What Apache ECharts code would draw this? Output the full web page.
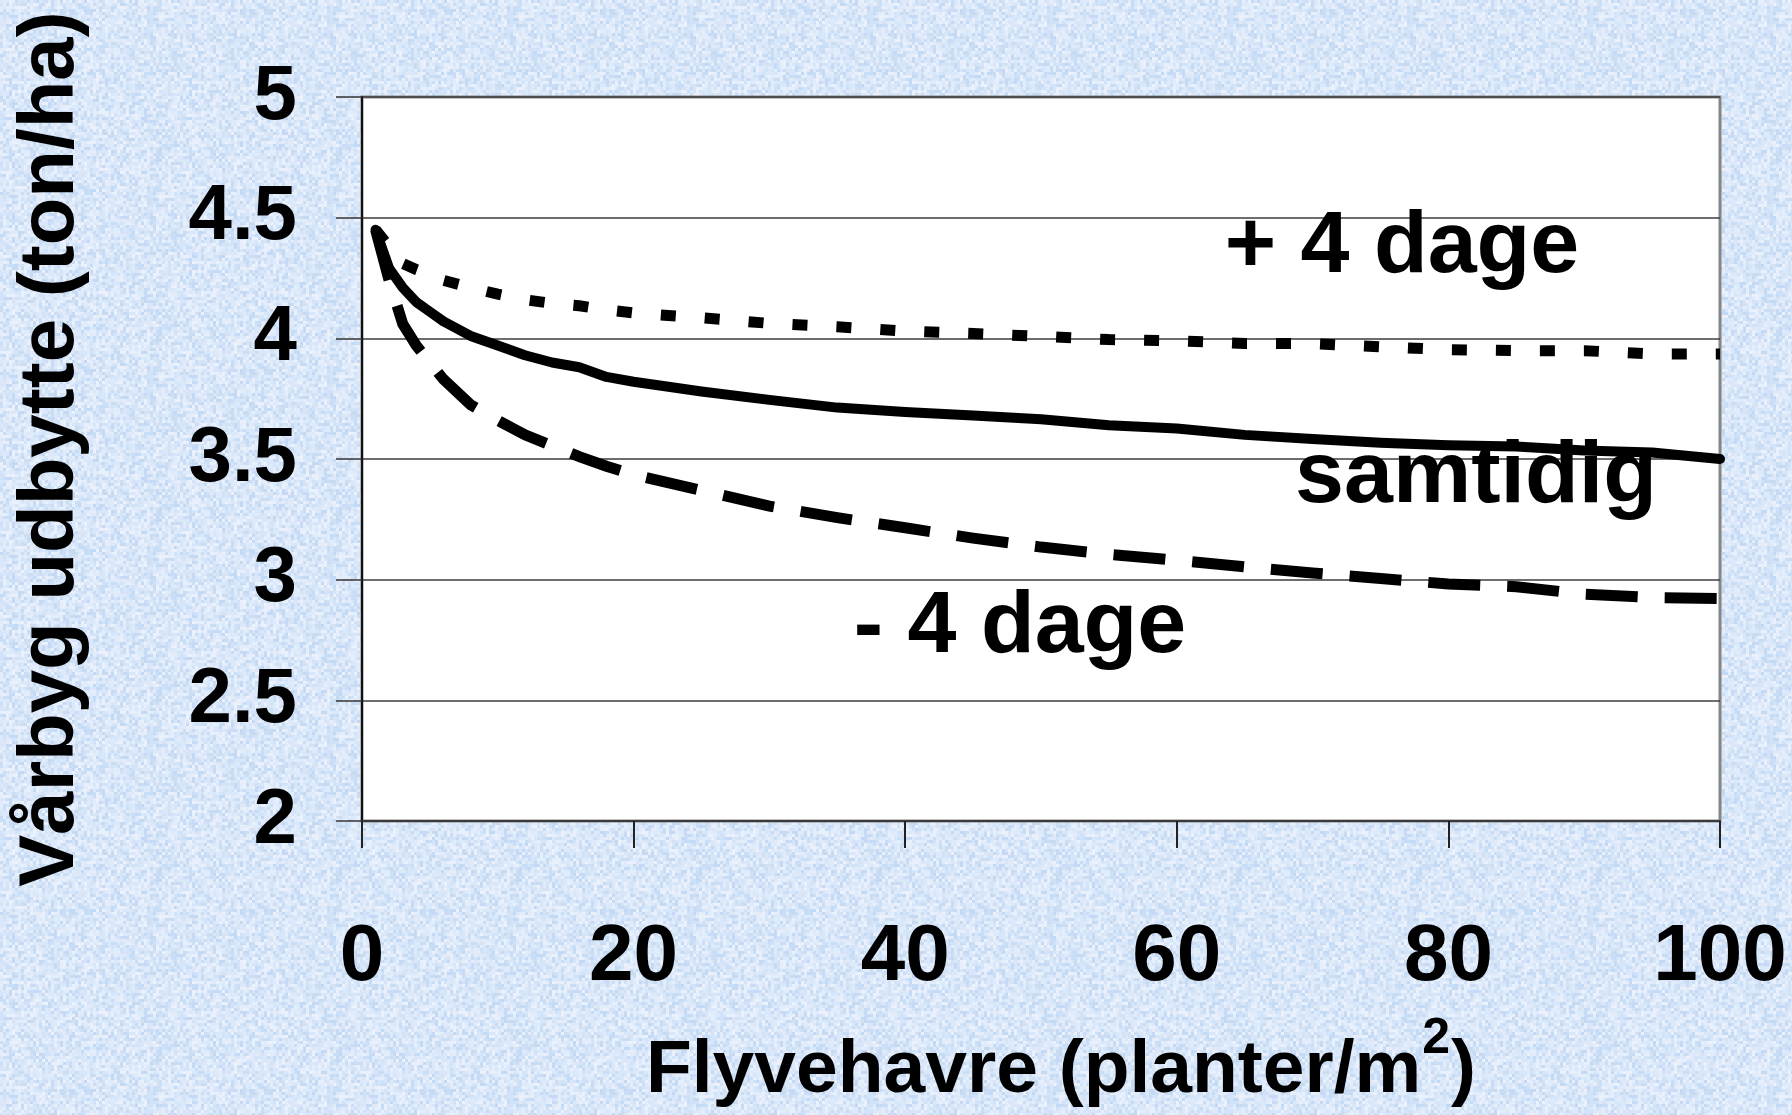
<!DOCTYPE html>
<html>
<head>
<meta charset="utf-8">
<script src="https://cdn.jsdelivr.net/npm/echarts@6/dist/echarts.min.js"></script>
<style>
html,body{margin:0;padding:0;overflow:hidden;background:#d9e7f8;}
#chart{width:1792px;height:1115px;}
</style>
</head>
<body>
<div id="chart"></div>
<script>
// ---- data ----
const density = [1, 2, 3, 4, 5, 6, 8, 10, 12, 14, 16, 18, 20, 25, 30, 35, 40, 45, 50, 55, 60, 65, 70, 75, 80, 85, 90, 95, 100];
const samtidig = [4.45, 4.29, 4.21, 4.15, 4.11, 4.07, 4.01, 3.97, 3.93, 3.90, 3.88, 3.84, 3.82, 3.78, 3.745, 3.713, 3.695, 3.68, 3.665, 3.64, 3.626, 3.60, 3.583, 3.567, 3.557, 3.552, 3.535, 3.527, 3.50];
const plus4 = [4.45, 4.38, 4.31, 4.285, 4.265, 4.24, 4.21, 4.183, 4.16, 4.145, 4.135, 4.118, 4.105, 4.085, 4.062, 4.048, 4.03, 4.02, 4.008, 3.995, 3.99, 3.979, 3.978, 3.965, 3.953, 3.949, 3.949, 3.935, 3.935];
const minus4 = [4.45, 4.24, 4.06, 3.97, 3.90, 3.83, 3.725, 3.66, 3.60, 3.555, 3.51, 3.47, 3.435, 3.37, 3.305, 3.257, 3.215, 3.172, 3.135, 3.105, 3.08, 3.053, 3.028, 3.005, 2.982, 2.971, 2.94, 2.926, 2.922];
const seriesNames = ['samtidig', '+ 4 dage', '- 4 dage'];
const xTitleMain = 'Flyvehavre (planter/m';
const xTitleSup = '2';
const xTitleClose = ')';
const yTitle = 'Vårbyg udbytte (ton/ha)';

const FONT = '"Liberation Sans", Arial, "DejaVu Sans", sans-serif';

// ---- background texture (deterministic hash, decoration only) ----
(function () {
  const c = document.createElement('canvas');
  c.width = 180; c.height = 180;
  const ctx = c.getContext('2d');
  const pal = ['#dbe8f9', '#d2e3f7', '#e4eefb', '#c9ddf5', '#eaf1fc', '#d7e6f8', '#c4daf4', '#dfeafa'];
  for (let i = 0; i < 60; i++) {
    for (let j = 0; j < 60; j++) {
      const h = Math.abs(Math.sin(i * 12.9898 + j * 78.233) * 43758.5453) % 1;
      ctx.fillStyle = pal[Math.floor(h * pal.length)];
      ctx.fillRect(i * 3, j * 3, 3, 3);
    }
  }
  document.getElementById('chart').style.background = 'url(' + c.toDataURL() + ') repeat';
})();

function measure(text, size) {
  const c = document.createElement('canvas').getContext('2d');
  c.font = 'bold ' + size + 'px ' + FONT;
  return c.measureText(text).width;
}

const chart = echarts.init(document.getElementById('chart'), null, { renderer: 'canvas' });

// x title pieces
const mainSize = 75, supSize = 50;
const wMain = measure(xTitleMain, mainSize);
const wSup = measure(xTitleSup, supSize);
const wClose = measure(xTitleClose, mainSize);
const titleCenter = 1061;
const totalW = wMain + wSup + 2 + wClose;
const tLeft = titleCenter - totalW / 2;

function txt(x, y, text, size, align, extra) {
  return Object.assign({
    type: 'text', x: x, y: y, z: 100,
    style: {
      text: text, fill: '#000',
      font: 'bold ' + size + 'px ' + FONT,
      align: align, verticalAlign: 'middle',
      textAlign: align, textVerticalAlign: 'middle'
    }
  }, extra || {});
}

const option = {
  animation: false,
  backgroundColor: 'transparent',
  grid: {
    left: 362, right: 72, top: 97, bottom: 294,
    show: true, backgroundColor: '#ffffff', borderColor: '#858585', borderWidth: 3
  },
  xAxis: {
    type: 'value', min: 0, max: 100, interval: 20,
    axisLine: { show: true, onZero: false, lineStyle: { color: '#3a3a3a', width: 2 } },
    axisTick: { show: true, inside: false, length: 27, lineStyle: { color: '#222', width: 2 } },
    axisLabel: {
      margin: 97, color: '#000', fontFamily: FONT, fontWeight: 'bold', fontSize: 80,
      showMinLabel: true, showMaxLabel: true
    },
    splitLine: { show: false }
  },
  yAxis: {
    type: 'value', min: 2, max: 5, interval: 0.5,
    axisLine: { show: true, lineStyle: { color: '#111', width: 2 } },
    axisTick: { show: true, inside: false, length: 26, lineStyle: { color: '#333', width: 1.5 } },
    axisLabel: {
      margin: 65, color: '#000', fontFamily: FONT, fontWeight: 'bold', fontSize: 78,
      showMinLabel: true, showMaxLabel: true
    },
    splitLine: { show: true, lineStyle: { color: '#3c3c3c', width: 1.5 } }
  },
  series: [
    {
      name: seriesNames[0], type: 'line', symbol: 'none', showSymbol: false, smooth: false,
      data: density.map((x, i) => [x, samtidig[i]]),
      lineStyle: { color: '#000', width: 10, type: 'solid', cap: 'round', join: 'round' },
      z: 3
    },
    {
      name: seriesNames[1], type: 'line', symbol: 'none', showSymbol: false, smooth: false,
      data: density.map((x, i) => [x, plus4[i]]),
      lineStyle: { color: '#000', width: 11, type: [15, 29], cap: 'butt', join: 'miter' },
      z: 3
    },
    {
      name: seriesNames[2], type: 'line', symbol: 'none', showSymbol: false, smooth: false,
      data: density.map((x, i) => [x, minus4[i]]),
      lineStyle: { color: '#000', width: 11, type: [52, 27], cap: 'butt', join: 'miter' },
      z: 3
    }
  ],
  graphic: [
    txt(51, 449, yTitle, 78, 'center', { rotation: Math.PI / 2 }),
    txt(1402, 248, seriesNames[1], 88, 'center'),
    txt(1476, 478, seriesNames[0], 88, 'center'),
    txt(1020, 628, seriesNames[2], 88, 'center'),
    txt(tLeft, 1071, xTitleMain, mainSize, 'left'),
    txt(tLeft + wMain + 1, 1039, xTitleSup, supSize, 'left'),
    txt(tLeft + wMain + wSup + 2, 1071, xTitleClose, mainSize, 'left')
  ]
};

chart.setOption(option);
</script>
</body>
</html>
